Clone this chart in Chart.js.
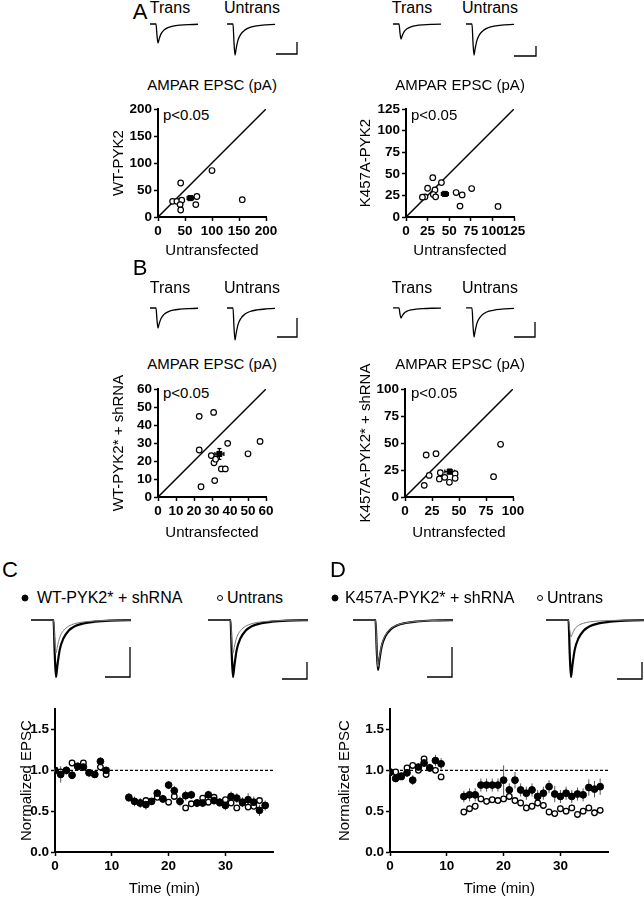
<!DOCTYPE html>
<html lang="en">
<head>
<meta charset="UTF-8">
<title>PYK2 AMPAR EPSC</title>
<script src="https://cdn.jsdelivr.net/npm/chart.js@4.4.1/dist/chart.umd.min.js"></script>
<style>
  body { margin: 0; background: #fff; font-family: "Liberation Sans", Arial, sans-serif; color: #000; }
  #fig { position: relative; width: 644px; height: 900px; overflow: hidden; background: #fff; }
  #fig canvas, #fig .t, #fig .dot { position: absolute; }
  .t { white-space: nowrap; line-height: 1; }
  .dot { border-radius: 50%; box-sizing: border-box; transform: translate(-50%, -50%); }
</style>
</head>
<body>
<div id="fig"></div>
<script>
// ---------- A: AMPAR EPSC (pA), untransfected (x) vs transfected (y) ----------
const wtUntrans = [42, 100, 27, 35, 44, 41, 42, 72, 70, 156];
const wtTrans   = [63, 86, 29, 29, 31, 23, 13, 38, 23, 32];
const wtMean = [60, 35], wtSem = [6, 3];

const kaUntrans = [31, 25, 41, 33.5, 31.6, 34.3, 22, 19, 58, 65, 76, 62.5, 106.5];
const kaTrans   = [45.5, 33.3, 39.8, 31.3, 26, 23.3, 23.3, 23, 28.3, 25.6, 32.9, 12.6, 12.2];
const kaMean = [45, 26.7], kaSem = [4, 2];

// ---------- B: rescue with shRNA ----------
const wtsUntrans = [22.9, 30.9, 22.9, 38.7, 56.7, 50, 29.6, 31.1, 32, 35.2, 37.4, 23.9, 31.5];
const wtsTrans   = [44.8, 47, 26.1, 29.8, 30.9, 24, 23, 19, 21, 15.6, 15.6, 5.7, 9.1];
const wtsMean = [34.1, 23.9], wtsSem = [2.5, 3];

const kasUntrans = [19.6, 28.7, 88.5, 82, 22.4, 17.8, 32.7, 31.8, 36.8, 41.1, 46.4, 46.4];
const kasTrans   = [38.9, 40.1, 48.8, 18.8, 20, 10.8, 22.5, 16.7, 18.2, 13.6, 21.6, 17.3];
const kasMean = [41.4, 23.5], kasSem = [4.5, 2];

// ---------- C / D: normalized EPSC over time ----------
const timeMin = [0,1,2,3,4,5,6,7,8,9,13,14,15,16,17,18,19,20,21,22,23,24,25,26,27,28,29,30,31,32,33,34,35,36,37];

const cShrna = [1.0,0.95,1.0,0.94,1.05,1.04,0.97,0.95,1.11,1.0,
  0.67,0.62,0.6,0.58,0.62,0.72,0.65,0.82,0.75,0.62,0.69,0.7,0.6,0.6,0.7,0.63,0.61,0.57,0.68,0.66,0.61,0.64,0.61,0.51,0.57];
const cShrnaSem = [0.03,0.1,0.05,0.05,0.03,0.04,0.04,0.04,0.05,0.04,
  0.05,0.06,0.06,0.06,0.04,0.05,0.05,0.05,0.06,0.06,0.06,0.05,0.05,0.05,0.05,0.05,0.05,0.06,0.06,0.06,0.06,0.08,0.07,0.07,0.06];
const cUntrans = [1.0,0.98,1.0,1.09,1.04,1.09,0.97,0.95,1.04,0.95,
  0.66,0.62,0.6,0.63,0.62,0.67,0.65,0.61,0.68,0.62,0.54,0.59,0.6,0.66,0.61,0.67,0.6,0.64,0.6,0.54,0.6,0.55,0.56,0.63,0.57];
const cUntransSem = [0.02,0.03,0.03,0.04,0.03,0.03,0.03,0.03,0.04,0.03,
  0.03,0.03,0.03,0.04,0.03,0.03,0.03,0.03,0.03,0.03,0.03,0.03,0.03,0.03,0.03,0.03,0.03,0.03,0.03,0.03,0.03,0.03,0.03,0.03,0.03];

const dShrna = [0.98,0.9,0.93,0.97,0.88,1.04,1.09,1.03,1.12,1.08,
  0.68,0.7,0.7,0.82,0.82,0.82,0.82,0.88,0.76,0.88,0.76,0.72,0.76,0.68,0.72,0.8,0.71,0.68,0.72,0.68,0.71,0.7,0.79,0.77,0.8];
const dShrnaSem = [0.03,0.04,0.04,0.05,0.06,0.05,0.05,0.05,0.07,0.07,
  0.07,0.08,0.08,0.08,0.08,0.08,0.08,0.18,0.08,0.1,0.08,0.08,0.08,0.08,0.08,0.08,0.1,0.08,0.08,0.08,0.08,0.08,0.1,0.1,0.1];
const dUntrans = [0.97,0.98,0.92,1.03,1.06,1.0,1.14,1.03,1.0,0.92,
  0.49,0.53,0.56,0.65,0.62,0.64,0.63,0.65,0.68,0.63,0.6,0.54,0.56,0.6,0.57,0.49,0.47,0.53,0.5,0.54,0.46,0.5,0.54,0.48,0.51];
const dUntransSem = [0.02,0.03,0.03,0.03,0.03,0.03,0.03,0.03,0.03,0.03,
  0.03,0.04,0.04,0.04,0.04,0.04,0.04,0.04,0.04,0.04,0.04,0.04,0.04,0.04,0.04,0.04,0.04,0.04,0.04,0.04,0.04,0.04,0.04,0.04,0.04];

// ---------- example EPSC traces: normalized shape + peak amplitudes (pA) ----------
const traceTime = [-15, 3, 4, 5, 6, 8, 11, 15, 20, 27, 36, 48, 70];
const epscShape = [0, 0, -0.6, -1, -0.82, -0.52, -0.32, -0.19, -0.11, -0.06, -0.03, -0.01, 0];
const peaksA  = { wtTrans: 32, wtUntrans: 52, kaTrans: 25, kaUntrans: 52 };
const peaksB  = { wtTrans: 21, wtUntrans: 34, kaTrans: 11, kaUntrans: 31 };
const peaksC  = { left: [38, 22], right: [67, 39] };
const peaksD  = { left: [33, 31], right: [67, 20] };
const scaleBar = { ms: 20, pA: 20 };

// ---------- setup ----------
Chart.defaults.font.family = '"Liberation Sans", Arial, sans-serif';
Chart.defaults.color = '#000';
Chart.defaults.animation = false;
Chart.defaults.responsive = false;
Chart.defaults.devicePixelRatio = 1;
Chart.defaults.plugins.legend.display = false;
Chart.defaults.plugins.tooltip.enabled = false;

const fig = document.getElementById('fig');

function addCanvas(left, top, w, h) {
  const c = document.createElement('canvas');
  c.width = Math.round(w); c.height = Math.round(h);
  c.style.left = Math.round(left) + 'px'; c.style.top = Math.round(top) + 'px';
  c.style.width = c.width + 'px'; c.style.height = c.height + 'px';
  fig.appendChild(c);
  return c;
}

function txt(s, x, y, size, align) {
  const d = document.createElement('div');
  d.className = 't';
  d.textContent = s;
  d.style.fontSize = size + 'px';
  d.style.left = x + 'px';
  d.style.top = y + 'px';
  d.style.transform = align === 'left' ? 'translate(0,-50%)' : 'translate(-50%,-50%)';
  fig.appendChild(d);
}

function dot(x, y, r, filled) {
  const d = document.createElement('div');
  d.className = 'dot';
  d.style.left = x + 'px'; d.style.top = y + 'px';
  d.style.width = d.style.height = (2 * r) + 'px';
  d.style.background = filled ? '#000' : '#fff';
  d.style.border = '1.3px solid #000';
  fig.appendChild(d);
}

// error bars drawn from dataset.errX / errY through the chart scales
const errorBars = {
  id: 'errorBars',
  beforeDatasetsDraw(chart) {
    const {ctx, scales: {x, y}} = chart;
    chart.data.datasets.forEach(ds => {
      if (!ds.errX && !ds.errY) return;
      ctx.save();
      ctx.strokeStyle = ds.errColor || '#000';
      ctx.lineWidth = ds.errWidth || 1;
      const cap = ds.errCap || 0;
      const seg = (x1, y1, x2, y2) => { ctx.beginPath(); ctx.moveTo(x1, y1); ctx.lineTo(x2, y2); ctx.stroke(); };
      ds.data.forEach((p, i) => {
        const px = x.getPixelForValue(p.x), py = y.getPixelForValue(p.y);
        if (ds.errY) {
          const a = y.getPixelForValue(p.y - ds.errY[i]), b = y.getPixelForValue(p.y + ds.errY[i]);
          seg(px, a, px, b);
          if (cap) { seg(px - cap, a, px + cap, a); seg(px - cap, b, px + cap, b); }
        }
        if (ds.errX) {
          const a = x.getPixelForValue(p.x - ds.errX[i]), b = x.getPixelForValue(p.x + ds.errX[i]);
          seg(a, py, b, py);
          if (cap) { seg(a, py - cap, a, py + cap); seg(b, py - cap, b, py + cap); }
        }
      });
      ctx.restore();
    });
  }
};
Chart.register(errorBars);

function axis(min, max, step, title, fit, fmt) {
  return {
    type: 'linear', min, max,
    ticks: {
      stepSize: step, autoSkip: false, maxRotation: 0, includeBounds: false, padding: 2,
      color: '#000', font: { size: 13.5, weight: 'bold' },
      callback: fmt || (v => v)
    },
    grid: { drawOnChartArea: false, tickLength: 4, tickWidth: 1.5, tickColor: '#000' },
    border: { display: true, color: '#000', width: 2 },
    title: { display: true, text: title, color: '#000', font: { size: 15 }, padding: 0 },
    afterFit: fit
  };
}

const HALF_TITLE = 9; // half of the 15px title line height

function scatterChart(o) {
  const padT = 40, padR = 14;
  const left = o.yTitleX - HALF_TITLE;
  const yW = o.plotL - left;
  const xH = o.xTitleY + HALF_TITLE - (o.plotT + o.size);
  const c = addCanvas(left, o.plotT - padT, yW + o.size + padR, padT + o.size + xH);
  new Chart(c, {
    type: 'scatter',
    data: { datasets: [
      { data: [{ x: o.mean[0], y: o.mean[1] }], pointStyle: 'rect', pointRadius: 3.6,
        backgroundColor: '#000', borderColor: '#000', errX: [o.sem[0]], errY: [o.sem[1]], errCap: 2, errWidth: 1.3 },
      { data: o.ux.map((v, i) => ({ x: v, y: o.tr[i] })), pointRadius: 2.8, borderWidth: 1.2,
        borderColor: '#000', backgroundColor: '#fff' },
      { data: [{ x: 0, y: 0 }, { x: o.max, y: o.max }], showLine: true, pointRadius: 0,
        borderColor: '#000', borderWidth: 1.5 }
    ]},
    options: {
      layout: { padding: { top: padT, right: padR, left: 0, bottom: 0 } },
      scales: {
        x: axis(0, o.max, o.step, 'Untransfected', s => { s.height = xH; }),
        y: axis(0, o.max, o.step, o.yTitle, s => { s.width = yW; })
      }
    }
  });
}

function timeChart(o) {
  const padT = 8, padR = 4, plotW = 220, plotH = 145, plotT = 707, xTitleY = 889;
  const left = o.yTitleX - HALF_TITLE;
  const yW = o.plotL - left;
  const xH = xTitleY + HALF_TITLE - (plotT + plotH);
  const c = addCanvas(left, plotT - padT, yW + plotW + padR, padT + plotH + xH);
  const pts = arr => timeMin.map((t, i) => ({ x: t, y: arr[i] }));
  new Chart(c, {
    type: 'scatter',
    data: { datasets: [
      { data: pts(o.filled), pointRadius: 3.4, backgroundColor: '#000', borderColor: '#000',
        errY: o.filledSem, errColor: '#555' },
      { data: pts(o.open), pointRadius: 2.8, borderWidth: 1.3, backgroundColor: '#fff', borderColor: '#000',
        errY: o.openSem, errColor: '#555' },
      { data: [{ x: 0, y: 1 }, { x: 38.5, y: 1 }], showLine: true, pointRadius: 0,
        borderColor: '#000', borderWidth: 1.2, borderDash: [3, 2] }
    ]},
    options: {
      layout: { padding: { top: padT, right: padR, left: 0, bottom: 0 } },
      scales: {
        x: axis(0, 38.5, 10, 'Time (min)', s => { s.height = xH; }),
        y: axis(0, 1.75, 0.5, 'Normalized EPSC', s => { s.width = yW; }, v => v.toFixed(1))
      }
    }
  });
}

// one small chart holding one or more overlaid EPSC traces
function traceChart(o) {
  const pad = 3;
  const top = 2 / o.pxPA;
  const bottom = -Math.max(...o.traces.map(t => t.peak)) - 2 / o.pxPA;
  const w = (o.tMax - o.tMin) * o.pxMs, h = (top - bottom) * o.pxPA;
  const c = addCanvas(o.x0 - pad, o.baseY - top * o.pxPA - pad, w + 2 * pad, h + 2 * pad);
  new Chart(c, {
    type: 'line',
    data: { datasets: o.traces.map(t => ({
      data: traceTime.map((ms, i) => ({ x: ms, y: t.peak * epscShape[i] })),
      borderColor: t.color || '#000', borderWidth: t.width || 1.3, pointRadius: 0,
      cubicInterpolationMode: 'monotone', clip: { left: 0, right: 0, top: pad, bottom: pad }
    })) },
    options: {
      layout: { padding: pad },
      scales: {
        x: { type: 'linear', display: false, min: o.tMin, max: o.tMax },
        y: { display: false, min: bottom, max: top }
      }
    }
  });
}

function scaleBarChart(o) {
  const pad = 2, w = scaleBar.ms * o.pxMs, h = scaleBar.pA * o.pxPA;
  const c = addCanvas(o.right - w - pad, o.bottom - h - pad, w + 2 * pad, h + 2 * pad);
  new Chart(c, {
    type: 'line',
    data: { datasets: [{
      data: [{ x: 0, y: 0 }, { x: scaleBar.ms, y: 0 }, { x: scaleBar.ms, y: scaleBar.pA }],
      borderColor: '#000', borderWidth: 1.3, pointRadius: 0, clip: false
    }] },
    options: {
      layout: { padding: pad },
      scales: {
        x: { type: 'linear', display: false, min: 0, max: scaleBar.ms },
        y: { display: false, min: 0, max: scaleBar.pA }
      }
    }
  });
}

// ---------- panel A ----------
txt('A', 140, 12, 22);
txt('Trans', 170, 8, 16); txt('Untrans', 252, 8, 16);
txt('Trans', 412, 8, 16); txt('Untrans', 490, 8, 16);
traceChart({ x0: 150, baseY: 24, tMin: -3, tMax: 45, pxMs: 1, pxPA: 0.6, traces: [{ peak: peaksA.wtTrans }] });
traceChart({ x0: 227, baseY: 24, tMin: -3, tMax: 45, pxMs: 1, pxPA: 0.6, traces: [{ peak: peaksA.wtUntrans }] });
scaleBarChart({ right: 297, bottom: 54, pxMs: 1.05, pxPA: 0.6 });
traceChart({ x0: 393, baseY: 24, tMin: -3, tMax: 45, pxMs: 1, pxPA: 0.6, traces: [{ peak: peaksA.kaTrans }] });
traceChart({ x0: 466, baseY: 24, tMin: -3, tMax: 45, pxMs: 1, pxPA: 0.6, traces: [{ peak: peaksA.kaUntrans }] });
scaleBarChart({ right: 536, bottom: 56, pxMs: 1.1, pxPA: 0.5 });

txt('AMPAR EPSC (pA)', 212, 84, 15); txt('AMPAR EPSC (pA)', 460, 84, 15);
txt('p<0.05', 163, 114, 15, 'left'); txt('p<0.05', 411, 114, 15, 'left');
scatterChart({ plotL: 158, plotT: 109, size: 108, max: 200, step: 50, yTitleX: 119, xTitleY: 251,
  yTitle: 'WT-PYK2', ux: wtUntrans, tr: wtTrans, mean: wtMean, sem: wtSem });
scatterChart({ plotL: 406, plotT: 109, size: 108, max: 125, step: 25, yTitleX: 366, xTitleY: 251,
  yTitle: 'K457A-PYK2', ux: kaUntrans, tr: kaTrans, mean: kaMean, sem: kaSem });

// ---------- panel B ----------
txt('B', 140, 268, 22);
txt('Trans', 170, 288, 16); txt('Untrans', 252, 288, 16);
txt('Trans', 412, 288, 16); txt('Untrans', 490, 288, 16);
traceChart({ x0: 150, baseY: 308, tMin: -3, tMax: 45, pxMs: 1, pxPA: 0.95, traces: [{ peak: peaksB.wtTrans }] });
traceChart({ x0: 227, baseY: 308, tMin: -3, tMax: 45, pxMs: 1, pxPA: 0.95, traces: [{ peak: peaksB.wtUntrans }] });
scaleBarChart({ right: 297, bottom: 337, pxMs: 1, pxPA: 0.95 });
traceChart({ x0: 393, baseY: 308, tMin: -3, tMax: 45, pxMs: 1, pxPA: 0.95, traces: [{ peak: peaksB.kaTrans }] });
traceChart({ x0: 466, baseY: 308, tMin: -3, tMax: 45, pxMs: 1, pxPA: 0.95, traces: [{ peak: peaksB.kaUntrans }] });
scaleBarChart({ right: 535, bottom: 337, pxMs: 1.05, pxPA: 0.75 });

txt('AMPAR EPSC (pA)', 212, 363, 15); txt('AMPAR EPSC (pA)', 460, 363, 15);
txt('p<0.05', 163, 392, 15, 'left'); txt('p<0.05', 411, 392, 15, 'left');
scatterChart({ plotL: 158, plotT: 389, size: 108, max: 60, step: 10, yTitleX: 119, xTitleY: 533,
  yTitle: 'WT-PYK2* + shRNA', ux: wtsUntrans, tr: wtsTrans, mean: wtsMean, sem: wtsSem });
scatterChart({ plotL: 405, plotT: 389, size: 108, max: 100, step: 25, yTitleX: 366, xTitleY: 533,
  yTitle: 'K457A-PYK2* + shRNA', ux: kasUntrans, tr: kasTrans, mean: kasMean, sem: kasSem });

// ---------- panel C ----------
txt('C', 10, 570, 22);
dot(25, 598, 3.5, true); txt('WT-PYK2* + shRNA', 37, 598, 16, 'left');
dot(220, 598, 3, false); txt('Untrans', 227, 598, 16, 'left');
traceChart({ x0: 30.5, baseY: 620, tMin: -15, tMax: 65, pxMs: 1.25, pxPA: 1.5,
  traces: [{ peak: peaksC.left[1], width: 1, color: '#777' }, { peak: peaksC.left[0], width: 2.2 }] });
scaleBarChart({ right: 130, bottom: 677, pxMs: 1.25, pxPA: 1.5 });
traceChart({ x0: 208, baseY: 620, tMin: -15, tMax: 65, pxMs: 1.25, pxPA: 0.85,
  traces: [{ peak: peaksC.right[1], width: 1, color: '#777' }, { peak: peaksC.right[0], width: 2.2 }] });
scaleBarChart({ right: 307, bottom: 679, pxMs: 1.25, pxPA: 0.85 });
timeChart({ plotL: 55, yTitleX: 27, filled: cShrna, filledSem: cShrnaSem, open: cUntrans, openSem: cUntransSem });

// ---------- panel D ----------
txt('D', 338, 570, 22);
dot(335, 598, 3.5, true); txt('K457A-PYK2* + shRNA', 345, 598, 16, 'left');
dot(540, 598, 3, false); txt('Untrans', 547, 598, 16, 'left');
traceChart({ x0: 352.5, baseY: 620, tMin: -15, tMax: 65, pxMs: 1.25, pxPA: 1.5,
  traces: [{ peak: peaksD.left[1], width: 1, color: '#777' }, { peak: peaksD.left[0], width: 2.2 }] });
scaleBarChart({ right: 452, bottom: 677, pxMs: 1.25, pxPA: 1.5 });
traceChart({ x0: 545.5, baseY: 620, tMin: -15, tMax: 65, pxMs: 1.25, pxPA: 0.85,
  traces: [{ peak: peaksD.right[1], width: 1, color: '#777' }, { peak: peaksD.right[0], width: 2.2 }] });
scaleBarChart({ right: 642, bottom: 679, pxMs: 1.25, pxPA: 0.85 });
timeChart({ plotL: 390, yTitleX: 345, filled: dShrna, filledSem: dShrnaSem, open: dUntrans, openSem: dUntransSem });
</script>
</body>
</html>
